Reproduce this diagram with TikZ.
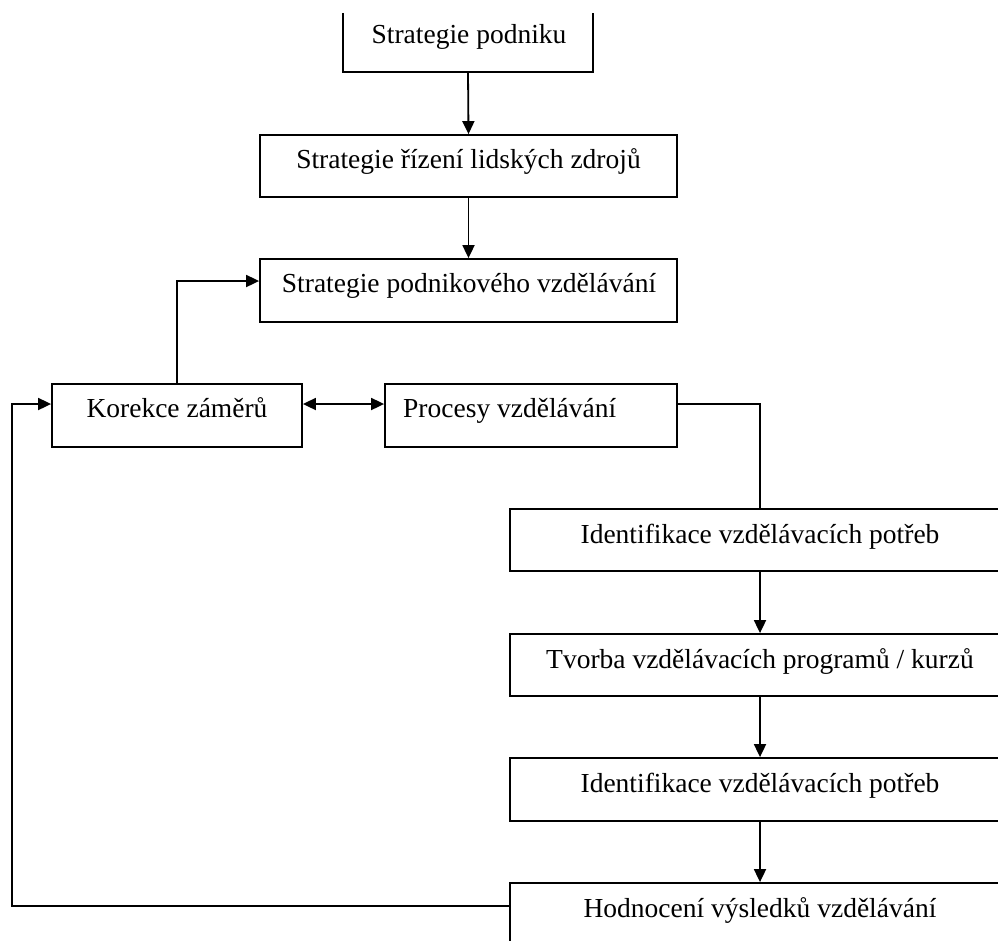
\documentclass[tikz,border=0pt]{standalone}
\usepackage{fontspec}
\setmainfont{Liberation Serif}
\usetikzlibrary{arrows.meta,calc}
\begin{document}
\begin{tikzpicture}[x=1pt,y=-1pt,
  box/.style={draw=black,line width=1.8pt,rectangle,inner sep=0pt},
  ghost/.style={rectangle,inner sep=0pt},
  lbl/.style={inner sep=0pt,anchor=base,font=\fontsize{27.5}{33}\selectfont},
  conn/.style={line width=1.8pt,black},
  arr/.style={conn,-{Triangle[length=13pt,width=12pt]}},
  darr/.style={conn,{Triangle[length=13pt,width=12pt]}-{Triangle[length=13pt,width=12pt]}}]
\useasboundingbox (0,0) rectangle (998,940);
% boxes
\node[ghost,minimum width=250pt,minimum height=59pt] (b1) at (468,42.5) {};
\draw[conn] (b1.north west) -- (b1.south west) -- (b1.south east) -- (b1.north east);
\node[box,minimum width=417pt,minimum height=62pt] (b2) at (468.5,166) {};
\node[box,minimum width=417pt,minimum height=63pt] (b3) at (468.5,290.5) {};
\node[box,minimum width=250pt,minimum height=63pt] (kor) at (177,415.5) {};
\node[box,minimum width=292pt,minimum height=63pt] (pro) at (531,415.5) {};
\node[box,minimum width=500pt,minimum height=62pt] (id1) at (760,540) {};
\node[box,minimum width=500pt,minimum height=62pt] (tv) at (760,665) {};
\node[box,minimum width=500pt,minimum height=63pt] (id2) at (760,789.5) {};
\node[box,minimum width=500pt,minimum height=62pt] (hod) at (760,914) {};
% texts
\node[lbl] (t1) at (469,43) {Strategie podniku};
\node[lbl] (t2) at (468.5,168) {Strategie řízení lidských zdrojů};
\node[lbl] (t3) at (469,292) {Strategie podnikového vzdělávání};
\node[lbl] (tk) at (177,417) {Korekce záměrů};
\node[lbl,anchor=base west] (tp) at (403,417) {Procesy vzdělávání};
\node[lbl] (ti1) at (760,543) {Identifikace vzdělávacích potřeb};
\node[lbl] (ttv) at (760,668) {Tvorba vzdělávacích programů / kurzů};
\node[lbl] (ti2) at (760,792) {Identifikace vzdělávacích potřeb};
\node[lbl] (th) at (760,917) {Hodnocení výsledků vzdělávání};
% helper coordinates
\coordinate (y3) at (0,281);
\coordinate (yK) at (0,404);
\coordinate (yH) at (0,906);
\coordinate (lx) at (12,0);
% connectors
\draw[arr] (b1.south) -- (b2.north);
\draw[arr] (b2.south) -- (b3.north);
\draw[arr] (kor.north) |- (b3.west |- y3);
\draw[darr] (kor.east |- yK) -- (pro.west |- yK);
\draw[conn] (pro.east |- yK) -| (id1.north);
\draw[arr] (id1.south) -- (tv.north);
\draw[arr] (tv.south) -- (id2.north);
\draw[arr] (id2.south) -- (hod.north);
\draw[arr] (hod.west |- yH) -| (lx |- yK) -- (kor.west |- yK);
\end{tikzpicture}
\end{document}
